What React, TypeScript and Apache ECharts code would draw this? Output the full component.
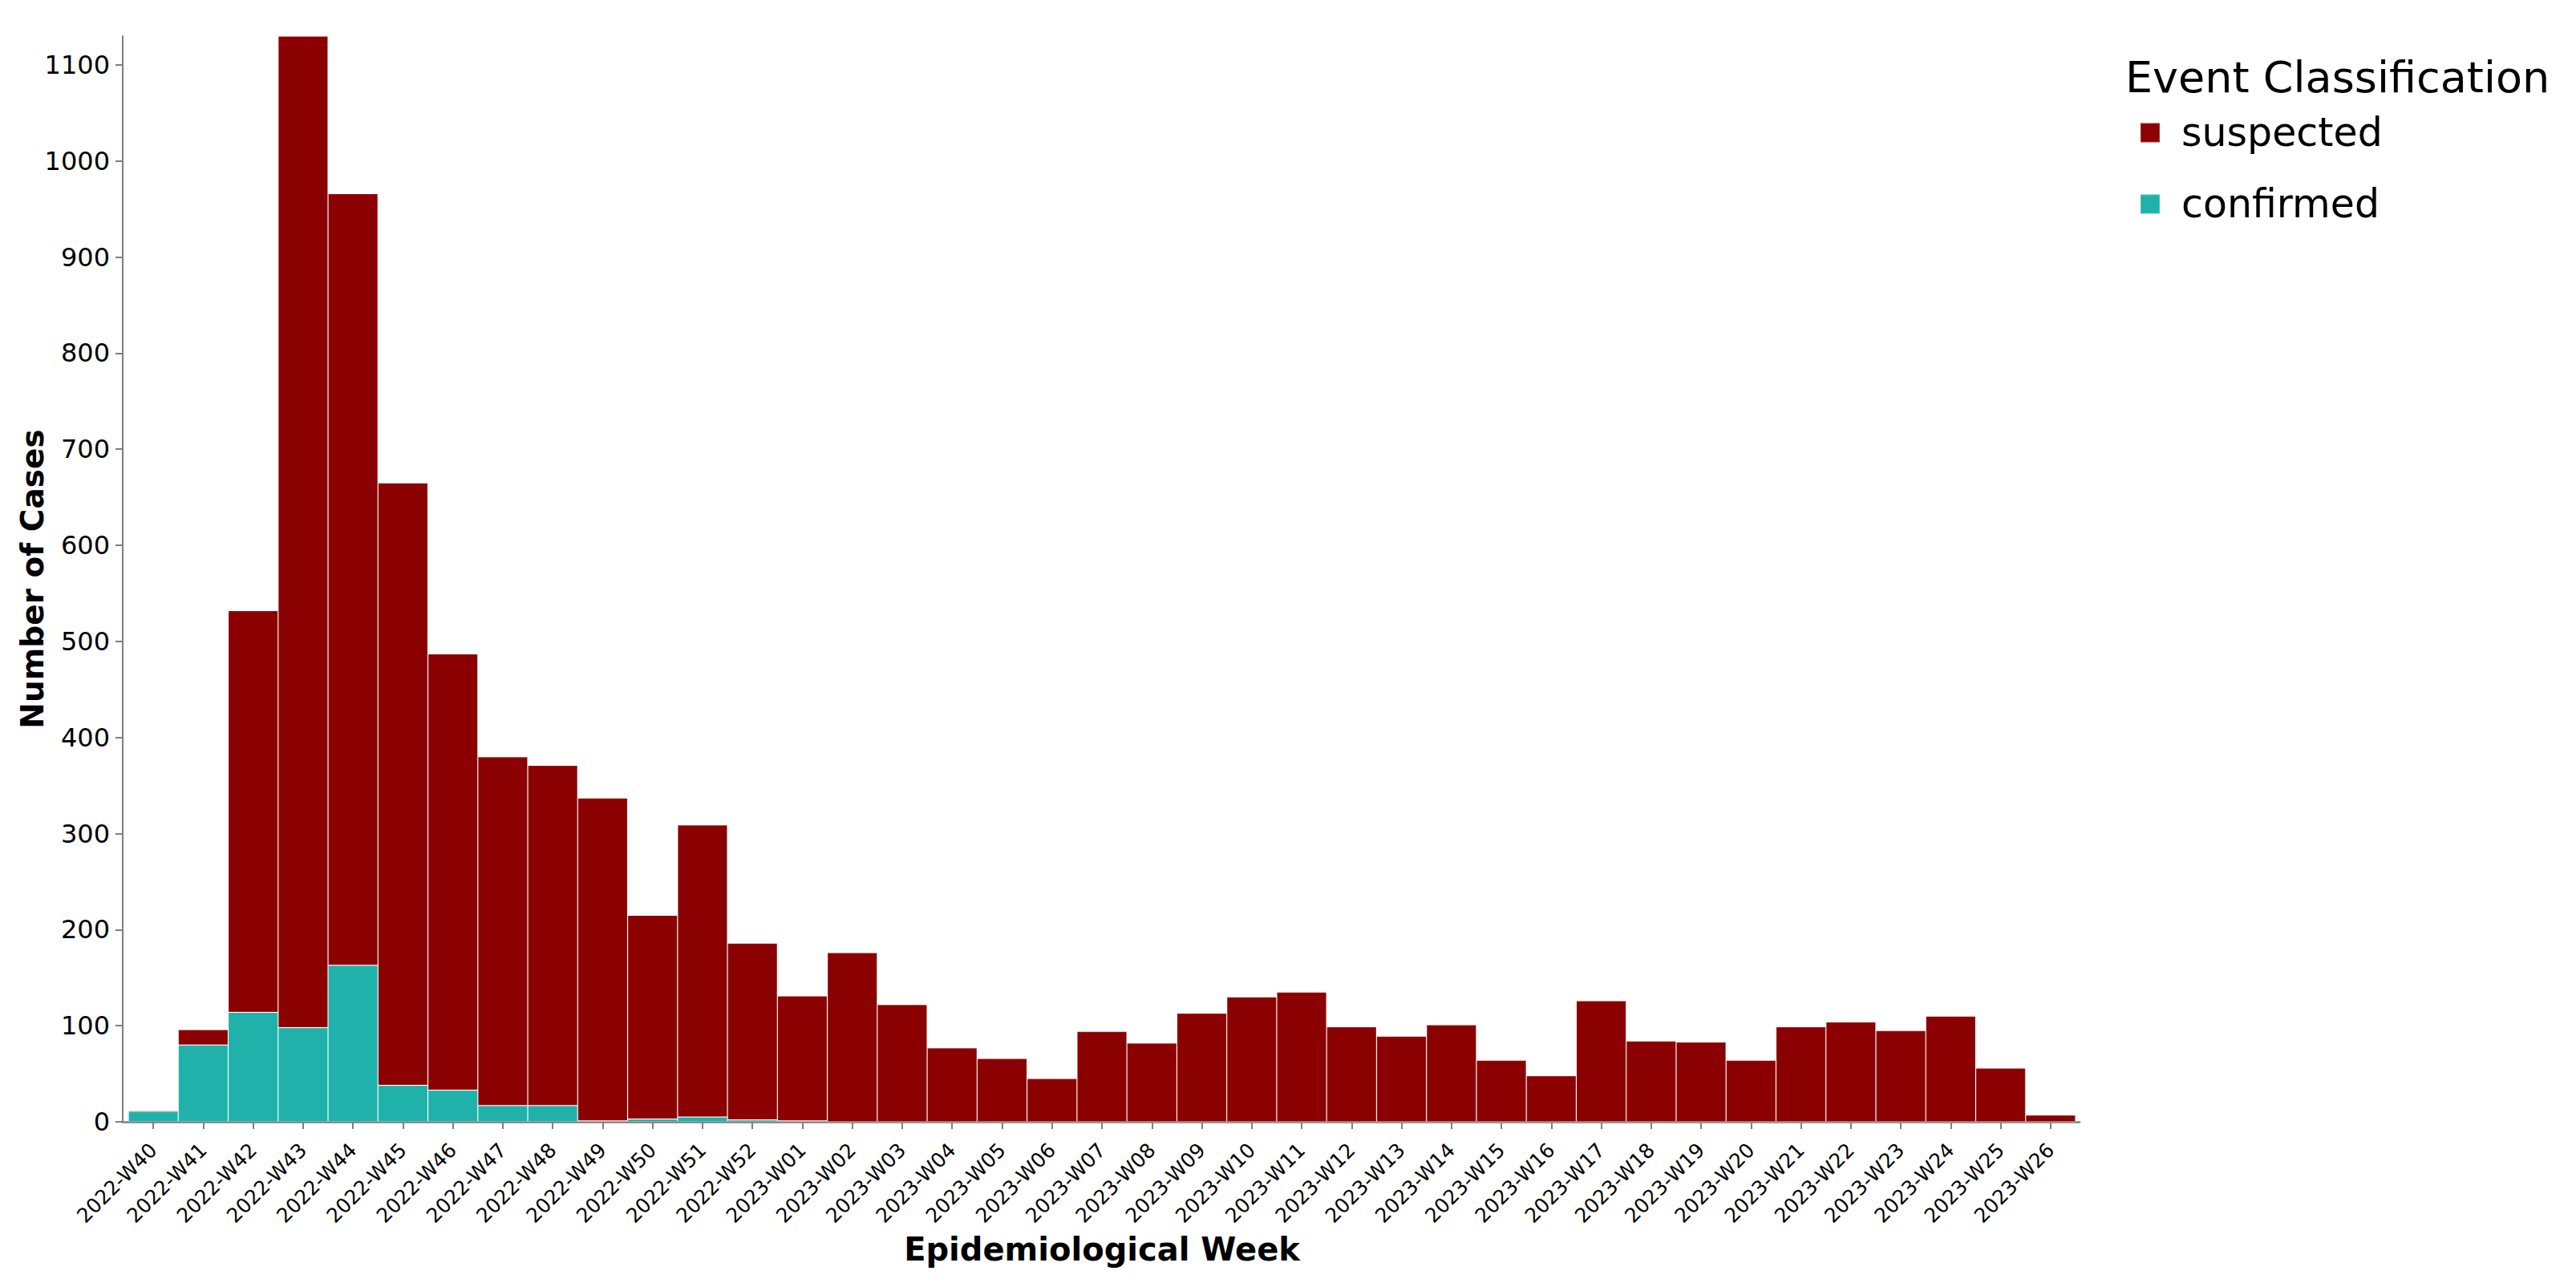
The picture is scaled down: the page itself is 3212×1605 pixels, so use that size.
import React, { useEffect, useRef } from "react";
import * as echarts from "echarts";

const weeks = [
  "2022-W40", "2022-W41", "2022-W42", "2022-W43", "2022-W44", "2022-W45", "2022-W46",
  "2022-W47", "2022-W48", "2022-W49", "2022-W50", "2022-W51", "2022-W52",
  "2023-W01", "2023-W02", "2023-W03", "2023-W04", "2023-W05", "2023-W06", "2023-W07",
  "2023-W08", "2023-W09", "2023-W10", "2023-W11", "2023-W12", "2023-W13", "2023-W14",
  "2023-W15", "2023-W16", "2023-W17", "2023-W18", "2023-W19", "2023-W20", "2023-W21",
  "2023-W22", "2023-W23", "2023-W24", "2023-W25", "2023-W26",
];

const confirmed = [
  11, 80, 114, 98, 163, 38, 33, 17, 17, 1, 3, 5, 2,
  1, 0, 0, 0, 0, 0, 0, 0, 0, 0, 0, 0, 0, 0, 0, 0, 0, 0, 0, 0, 0, 0, 0, 0, 0, 0,
];

const suspected = [
  1, 16, 418, 1032, 803, 627, 454, 363, 354, 336, 212, 304, 184,
  130, 176, 122, 77, 66, 45, 94, 82, 113, 130, 135, 99, 89, 101,
  64, 48, 126, 84, 83, 64, 99, 104, 95, 110, 56, 7,
];

const yTicks = [0, 100, 200, 300, 400, 500, 600, 700, 800, 900, 1000, 1100];

const FONT = "DejaVu Sans";
const AXIS_GRAY = "#7f7f7f";

export default function App() {
  const ref = useRef<HTMLDivElement>(null);

  useEffect(() => {
    if (!ref.current) return;
    const chart = echarts.init(ref.current, null, { renderer: "svg" });
    const totals = confirmed.map((c, i) => c + suspected[i]);
    const yMax = Math.max(...totals);

    chart.setOption({
      animation: false,
      backgroundColor: "#ffffff",
      textStyle: { fontFamily: FONT, color: "#000" },
      title: {
        text: "Event Classification",
        left: 2645,
        top: 64,
        textStyle: { fontFamily: FONT, fontSize: 54, fontWeight: "normal", color: "#000" },
      },
      legend: {
        orient: "vertical",
        left: 2663,
        top: 136,
        icon: "rect",
        itemWidth: 24,
        itemHeight: 24,
        itemGap: 40,
        data: ["suspected", "confirmed"],
        textStyle: { fontFamily: FONT, fontSize: 49, color: "#000", padding: [0, 0, 0, 22] },
      },
      grid: [
        { left: 160, right: 624, top: 45, bottom: 206, containLabel: false },
        { left: 153, right: 619, top: 45, bottom: 206, containLabel: false },
      ],
      xAxis: [
        {
          type: "category",
          gridIndex: 0,
          data: weeks,
          boundaryGap: true,
          name: "Epidemiological Week",
          nameLocation: "middle",
          nameGap: 139,
          nameMoveOverlap: false,
          nameTextStyle: { fontFamily: FONT, fontSize: 40, fontWeight: "bold", color: "#000" },
          axisLine: { show: false },
          axisTick: { show: true, alignWithLabel: true, length: 9, lineStyle: { color: AXIS_GRAY, width: 2 } },
          axisLabel: {
            rotate: 45,
            interval: 0,
            margin: 31,
            fontFamily: FONT,
            fontSize: 25,
            color: "#000",
          },
        },
        {
          type: "value",
          gridIndex: 1,
          min: 0,
          max: 1,
          axisLine: { show: true, lineStyle: { color: AXIS_GRAY, width: 2.5 } },
          axisTick: { show: false },
          axisLabel: { show: false },
          splitLine: { show: false },
        },
      ],
      yAxis: [
        {
          type: "value",
          gridIndex: 0,
          min: 0,
          max: yMax,
          interval: 100,
          offset: 7,
          name: "Number of Cases",
          nameLocation: "middle",
          nameGap: 93,
          nameMoveOverlap: false,
          nameTextStyle: { fontFamily: FONT, fontSize: 39, fontWeight: "bold", color: "#000" },
          splitLine: { show: false },
          axisLine: { show: true, lineStyle: { color: AXIS_GRAY, width: 2 } },
          axisTick: { show: true, length: 9, customValues: yTicks, lineStyle: { color: AXIS_GRAY, width: 2 } },
          axisLabel: {
            margin: 16,
            fontFamily: FONT,
            fontSize: 32,
            color: "#000",
            customValues: yTicks,
            formatter: (v: number) => String(v),
          },
        },
        {
          type: "value",
          gridIndex: 1,
          show: false,
        },
      ],
      series: [
        {
          name: "confirmed",
          type: "bar",
          stack: "cases",
          xAxisIndex: 0,
          yAxisIndex: 0,
          data: confirmed,
          barWidth: "100%",
          barCategoryGap: "0%",
          itemStyle: { color: "#20B2AA", borderColor: "rgba(255,255,255,0.18)", borderWidth: 1 },
        },
        {
          name: "suspected",
          type: "bar",
          stack: "cases",
          xAxisIndex: 0,
          yAxisIndex: 0,
          data: suspected,
          barWidth: "100%",
          barCategoryGap: "0%",
          itemStyle: { color: "#8B0000", borderColor: "rgba(255,255,255,0.18)", borderWidth: 1 },
        },
      ],
    });

    return () => chart.dispose();
  }, []);

  return (
    <div
      ref={ref}
      style={{ position: "fixed", left: 0, top: 0, width: 3212, height: 1605, background: "#fff" }}
    />
  );
}
